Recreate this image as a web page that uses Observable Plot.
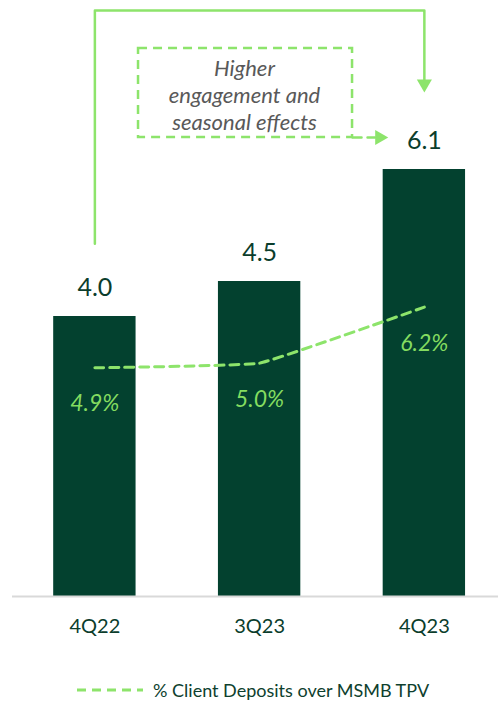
<!DOCTYPE html>
<html><head><meta charset="utf-8">
<script src="https://cdn.jsdelivr.net/npm/d3@7"></script>
<script src="https://cdn.jsdelivr.net/npm/@observablehq/plot@0.6"></script>
<style>
body{margin:0;background:#fff;font-family:Lato,"Open Sans",sans-serif;}
#wrap{position:relative;width:498px;height:701px;}
#legend{position:absolute;top:678px;left:77px;display:flex;align-items:center;height:24px;font-size:18px;color:#0E3F2E;}
#legend span{margin-left:10px;}
</style>
</head><body><div id="wrap"><div id="chart"></div><div id="legend"></div></div>
<script>
const quarters = ["4Q22", "3Q23", "4Q23"];
const deposits = [4.0, 4.5, 6.1];
const depositShare = [4.9, 5.0, 6.2];
const annotationLines = ["Higher", "engagement and", "seasonal effects"];
const legendLabel = "% Client Deposits over MSMB TPV";

const barColor = "#03412F";
const darkText = "#0B3D2C";
const lightGreen = "#8DE46B";
const pctGreen = "#84DC60";
const dash = "9,6";

const rows = quarters.map((q, i) => ({q, i, v: deposits[i], p: depositShare[i]}));
// secondary axis (0–12 %) drawn against primary (0–8)
const y2 = p => p * 8 / 12;

// annotation anchors (in x-index / primary-value units)
const bracket = [{x: 0, y: 5.04}, {x: 0, y: 8.371}, {x: 2, y: 8.371}, {x: 2, y: 7.38}];
const heads = [{x: 2, y: 7.324, rot: 180}, {x: 1.728, y: 6.557, rot: 90}];
const box = [{x1: 0.265, x2: 1.564, y1: 6.557, y2: 7.829}];
const connector = [{x: 1.564, y: 6.557}, {x: 1.70, y: 6.557}];
const note = [{x: 0.908, y: 7.18, t: annotationLines.join("\n")}];

const chart = Plot.plot({
  width: 498,
  height: 660,
  marginLeft: 12,
  marginRight: 0,
  marginTop: 36,
  marginBottom: 64,
  style: {fontFamily: "Lato, 'Open Sans', sans-serif", background: "white"},
  x: {domain: [-0.5, 2.45], axis: null},
  y: {domain: [0, 8], axis: null},
  marks: [
    Plot.rectY(rows, {x1: d => d.i - 0.25, x2: d => d.i + 0.25, y: "v", fill: barColor}),
    Plot.ruleY([0], {stroke: "#D9D9D9", strokeWidth: 2}),
    Plot.axisX({ticks: [0, 1, 2], tickFormat: i => quarters[i], tickSize: 0, tickPadding: 22, fontSize: 20, color: darkText}),
    Plot.text(rows, {x: "i", y: "v", text: d => d.v.toFixed(1), dy: -29, fontSize: 25, fill: darkText}),
    Plot.line(rows, {x: "i", y: d => y2(d.p), curve: "cardinal", tension: 0.75, stroke: lightGreen, strokeWidth: 3, strokeDasharray: dash}),
    Plot.text(rows, {x: "i", y: d => y2(d.p), text: d => d.p.toFixed(1) + "%", dy: 36, fontSize: 23, fontStyle: "italic", fill: pctGreen}),
    Plot.line(bracket, {x: "x", y: "y", stroke: lightGreen, strokeWidth: 2.5, curve: "linear"}),
    Plot.dot(heads, {x: "x", y: "y", rotate: "rot", symbol: "triangle", r: 5.6, fill: lightGreen, stroke: null}),
    Plot.rect(box, {x1: "x1", x2: "x2", y1: "y1", y2: "y2", fill: "none", stroke: lightGreen, strokeWidth: 2.5, strokeDasharray: dash}),
    Plot.line(connector, {x: "x", y: "y", stroke: lightGreen, strokeWidth: 2.5, strokeDasharray: dash}),
    Plot.text(note, {x: "x", y: "y", text: "t", fontSize: 22, fontStyle: "italic", fill: "#595959", lineHeight: 1.23})
  ]
});
document.getElementById("chart").appendChild(chart);

const lg = document.getElementById("legend");
lg.innerHTML = `<svg width="66" height="24"><line x1="0" x2="66" y1="12" y2="12" stroke="${lightGreen}" stroke-width="3" stroke-dasharray="${dash}"/></svg><span></span>`;
lg.querySelector("span").textContent = legendLabel;
</script>
</body></html>
